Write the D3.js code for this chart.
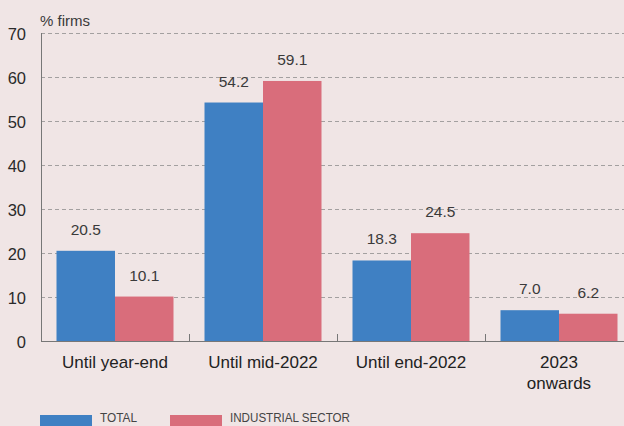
<!DOCTYPE html>
<html>
<head>
<meta charset="utf-8">
<script src="https://cdn.jsdelivr.net/npm/d3@7"></script>
<style>
  body { margin: 0; background: #f0e5e5; }
  svg { display: block; font-family: 'Liberation Sans', Arial, sans-serif; }
</style>
</head>
<body>
<svg id="chart" width="624" height="426"></svg>
<script>
'use strict'

const categories = ['Until year-end', 'Until mid-2022', 'Until end-2022', '2023|onwards']
const seriesNames = ['TOTAL', 'INDUSTRIAL SECTOR']
const totalValues = [20.5, 54.2, 18.3, 7.0]
const industrialValues = [10.1, 59.1, 24.5, 6.2]
const yTicks = [0, 10, 20, 30, 40, 50, 60, 70]
const colors = ['#3f80c3', '#d96d7b']

const width = 624
const height = 426
const margin = { top: 33, right: -9, bottom: 85, left: 41 }

const svg = d3.select('#chart')

// x scale runs off the right edge, like the original
const x = d3.scaleBand()
  .domain(categories)
  .range([margin.left, width - margin.right])

const inner = d3.scaleBand()
  .domain(seriesNames)
  .range([0, x.bandwidth()])
  .paddingOuter(0.265)
  .paddingInner(0)

const y = d3.scaleLinear()
  .domain([0, 70])
  .range([height - margin.bottom, margin.top])

// gridlines
svg.append('g')
  .selectAll('line')
  .data(yTicks.filter(d => d > 0))
  .enter().append('line')
  .attr('x1', margin.left)
  .attr('x2', width)
  .attr('y1', d => Math.round(y(d)) + 0.5)
  .attr('y2', d => Math.round(y(d)) + 0.5)
  .attr('stroke', '#a3a0a0')
  .attr('stroke-dasharray', '4,3')

// y tick labels
svg.append('g')
  .selectAll('text')
  .data(yTicks)
  .enter().append('text')
  .attr('x', 26)
  .attr('y', d => y(d) + 6.5)
  .attr('text-anchor', 'end')
  .attr('font-size', 16.5)
  .attr('fill', '#2a2a2a')
  .text(d => d)

svg.append('text')
  .attr('x', 40)
  .attr('y', 26)
  .attr('font-size', 15)
  .attr('fill', '#3a3a3a')
  .text('% firms')

// bars
const data = categories.map((c, i) => ({ cat: c, values: [totalValues[i], industrialValues[i]] }))

const group = svg.append('g')
  .selectAll('g')
  .data(data)
  .enter().append('g')
  .attr('transform', d => `translate(${x(d.cat)},0)`)

group.selectAll('rect')
  .data(d => d.values.map((v, j) => ({ name: seriesNames[j], value: v, idx: j })))
  .enter().append('rect')
  .attr('x', d => inner(d.name))
  .attr('width', inner.bandwidth())
  .attr('y', d => y(d.value))
  .attr('height', d => y(0) - y(d.value))
  .attr('fill', d => colors[d.idx])

group.selectAll('text.val')
  .data(d => d.values.map((v, j) => ({ name: seriesNames[j], value: v })))
  .enter().append('text')
  .attr('class', 'val')
  .attr('x', d => inner(d.name) + inner.bandwidth() / 2)
  .attr('y', d => y(d.value) - 16)
  .attr('text-anchor', 'middle')
  .attr('font-size', 15.5)
  .attr('fill', '#3a3a3a')
  .text(d => d.value.toFixed(1))

// axes lines
svg.append('line')
  .attr('x1', margin.left + 0.5)
  .attr('x2', margin.left + 0.5)
  .attr('y1', y(70))
  .attr('y2', y(0))
  .attr('stroke', '#777')

svg.append('line')
  .attr('x1', margin.left)
  .attr('x2', width)
  .attr('y1', Math.round(y(0)) + 0.5)
  .attr('y2', Math.round(y(0)) + 0.5)
  .attr('stroke', '#777')
  .attr('stroke-width', 1.2)

// ticks between categories
svg.append('g')
  .selectAll('line')
  .data(categories.slice(1))
  .enter().append('line')
  .attr('x1', d => Math.round(x(d)) + 0.5)
  .attr('x2', d => Math.round(x(d)) + 0.5)
  .attr('y1', y(0) - 7)
  .attr('y2', y(0))
  .attr('stroke', '#777')

// category labels
const catLabel = svg.append('g')
  .selectAll('text')
  .data(categories)
  .enter().append('text')
  .attr('x', d => x(d) + x.bandwidth() / 2)
  .attr('y', 368)
  .attr('text-anchor', 'middle')
  .attr('font-size', 17)
  .attr('fill', '#222')

catLabel.selectAll('tspan')
  .data(d => d.split('|'))
  .enter().append('tspan')
  .attr('x', function () { return d3.select(this.parentNode).attr('x') })
  .attr('dy', (d, i) => i === 0 ? 0 : 21)
  .text(d => d)

// legend
const legendWidths = [37, 120]
const legend = svg.append('g')
  .selectAll('g')
  .data(seriesNames)
  .enter().append('g')
  .attr('transform', (d, i) => `translate(${40 + i * 130},0)`)

legend.append('rect')
  .attr('x', 0)
  .attr('y', 415)
  .attr('width', 52)
  .attr('height', 12)
  .attr('fill', (d, i) => colors[i])

legend.append('text')
  .attr('x', 60)
  .attr('y', 422)
  .attr('font-size', 13.5)
  .attr('fill', '#444')
  .attr('textLength', (d, i) => legendWidths[i])
  .attr('lengthAdjust', 'spacingAndGlyphs')
  .text(d => d)
</script>
</body>
</html>
